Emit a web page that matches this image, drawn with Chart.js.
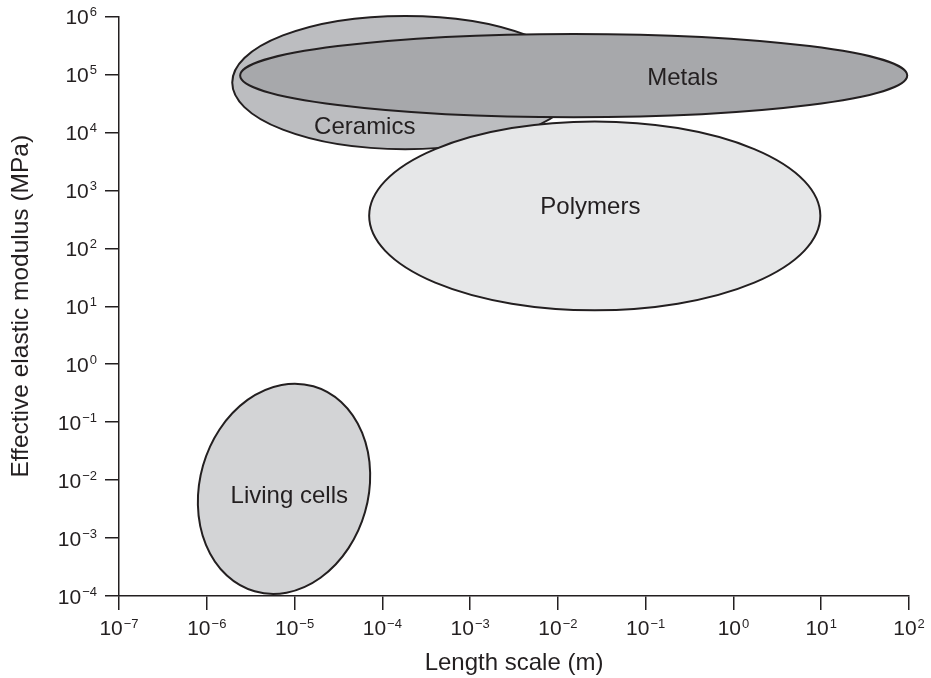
<!DOCTYPE html>
<html>
<head>
<meta charset="utf-8">
<title>Effective elastic modulus vs length scale</title>
<script src="https://cdn.jsdelivr.net/npm/chart.js@4.4.1/dist/chart.umd.min.js"></script>
<style>
  html, body { margin: 0; padding: 0; background: #fff; }
  #wrap { width: 931px; height: 678px; position: relative; }
</style>
</head>
<body>
<div id="wrap"><canvas id="chart"></canvas></div>
<script>
// material groups, in draw order (metals lies on top of ceramics)
const materials = ['Ceramics', 'Metals', 'Polymers', 'Living cells'];
// ellipse centres as log10 of length scale (m) and modulus (MPa)
const centreLogX = [-3.74, -1.82, -1.58, -5.12];
const centreLogY = [4.86, 4.98, 2.56, -2.15];
// half-width / half-height of each region, in decades
const spanLogX = [1.97, 3.80, 2.57, 0.96];
const spanLogY = [1.15, 0.72, 1.63, 1.84];
// where each name is written (log10 values)
const labelLogX = [-4.20, -0.58, -1.63, -5.06];
const labelLogY = [4.09, 4.94, 2.71, -2.28];

// decade ticks
const xTickExps = [-7, -6, -5, -4, -3, -2, -1, 0, 1, 2];
const yTickExps = [-4, -3, -2, -1, 0, 1, 2, 3, 4, 5, 6];

// styles
const fills = ['#bcbdc0', '#a7a8ab', '#e6e7e8', '#d3d4d6'];
const tiltDeg = [0, 0, 0, 16];
const ink = '#231f20';
const family = "'Liberation Sans', Arial, Helvetica, sans-serif";
const baseFont = '21px ' + family;
const expFont = '13px ' + family;
const labelFont = '24px ' + family;

const fmtExp = e => (e < 0 ? '\u2212' + Math.abs(e) : String(e));

// draws the material regions as ellipses in log-log space
const ellipsePlugin = {
    id: 'ellipses',
    beforeDatasetsDraw(chart) {
        const { ctx, scales: { x, y } } = chart;
        ctx.save();
        materials.forEach((name, i) => {
            const cx = x.getPixelForValue(Math.pow(10, centreLogX[i]));
            const cy = y.getPixelForValue(Math.pow(10, centreLogY[i]));
            const rx = Math.abs(x.getPixelForValue(Math.pow(10, centreLogX[i] + spanLogX[i])) - cx);
            const ry = Math.abs(y.getPixelForValue(Math.pow(10, centreLogY[i] + spanLogY[i])) - cy);
            ctx.beginPath();
            ctx.ellipse(cx, cy, rx, ry, tiltDeg[i] * Math.PI / 180, 0, Math.PI * 2);
            ctx.fillStyle = fills[i];
            ctx.fill();
            ctx.lineWidth = 2;
            ctx.strokeStyle = ink;
            ctx.stroke();
        });
        // names on top of all shapes
        ctx.fillStyle = ink;
        ctx.font = labelFont;
        ctx.textAlign = 'center';
        ctx.textBaseline = 'middle';
        materials.forEach((name, i) => {
            ctx.fillText(name,
                x.getPixelForValue(Math.pow(10, labelLogX[i])),
                y.getPixelForValue(Math.pow(10, labelLogY[i])));
        });
        ctx.restore();
    }
};

// tick labels written as 10 with a raised exponent
const powerLabels = {
    id: 'powerLabels',
    afterDraw(chart) {
        const { ctx, scales: { x, y } } = chart;
        ctx.save();
        ctx.fillStyle = ink;
        ctx.textBaseline = 'alphabetic';
        ctx.textAlign = 'left';

        xTickExps.forEach(e => {
            const px = x.getPixelForValue(Math.pow(10, e));
            const exp = fmtExp(e);
            ctx.font = baseFont;
            const wb = ctx.measureText('10').width;
            ctx.font = expFont;
            const we = ctx.measureText(exp).width;
            const left = px - (wb + 1 + we) / 2;
            ctx.font = baseFont;
            ctx.fillText('10', left, x.top + 39);
            ctx.font = expFont;
            ctx.fillText(exp, left + wb + 1, x.top + 32);
        });

        yTickExps.forEach(e => {
            const py = y.getPixelForValue(Math.pow(10, e));
            const exp = fmtExp(e);
            const right = y.right - 22;
            ctx.font = expFont;
            const we = ctx.measureText(exp).width;
            ctx.fillText(exp, right - we, py - 0.5);
            ctx.font = baseFont;
            const wb = ctx.measureText('10').width;
            ctx.fillText('10', right - we - 1 - wb, py + 7.5);
        });
        ctx.restore();
    }
};

const decadeTicks = exps => scale => {
    scale.ticks = exps.map(e => ({ value: Math.pow(10, e) }));
};

new Chart(document.getElementById('chart'), {
    type: 'scatter',
    data: {
        datasets: [{
            label: 'Region centres',
            data: materials.map((m, i) => ({ x: Math.pow(10, centreLogX[i]), y: Math.pow(10, centreLogY[i]) })),
            pointRadius: 0,
            pointHoverRadius: 0
        }]
    },
    options: {
        responsive: true,
        maintainAspectRatio: false,
        animation: false,
        layout: { padding: { top: 16.5, right: 22, bottom: 0, left: 0 } },
        plugins: {
            legend: { display: false },
            tooltip: { enabled: false }
        },
        scales: {
            x: {
                type: 'logarithmic',
                min: 1e-7,
                max: 1e2,
                afterBuildTicks: decadeTicks(xTickExps),
                ticks: { display: false },
                grid: { drawOnChartArea: false, drawTicks: true, tickLength: 14, color: ink, lineWidth: 1.5 },
                border: { display: true, color: ink, width: 1.5 },
                title: {
                    display: true, text: 'Length scale (m)', color: ink,
                    font: { family: family, size: 24 },
                    padding: { top: 38.6, bottom: 0.6 }
                }
            },
            y: {
                type: 'logarithmic',
                min: 1e-4,
                max: 1e6,
                afterBuildTicks: decadeTicks(yTickExps),
                ticks: { display: false },
                grid: { drawOnChartArea: false, drawTicks: true, tickLength: 14, color: ink, lineWidth: 1.5 },
                border: { display: true, color: ink, width: 1.5 },
                title: {
                    display: true, text: 'Effective elastic modulus (MPa)', color: ink,
                    font: { family: family, size: 24.5 },
                    padding: { top: 7, bottom: 68.6 }
                }
            }
        }
    },
    plugins: [ellipsePlugin, powerLabels]
});
</script>
</body>
</html>
